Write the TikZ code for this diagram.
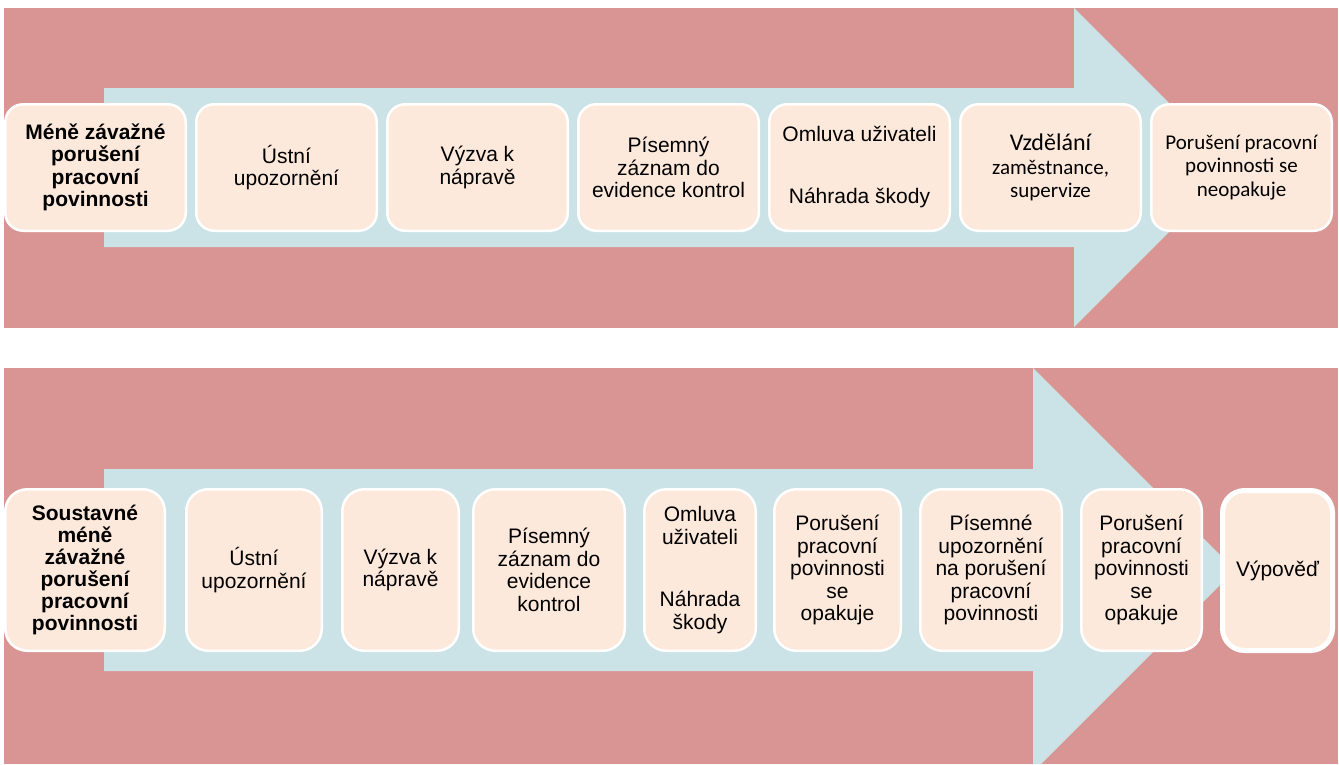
\documentclass[tikz,border=0pt]{standalone}
\usepackage{fontspec}
\setmainfont{Liberation Sans}
\newfontfamily\calibri{Carlito}
\definecolor{panelpink}{HTML}{D99594}
\definecolor{arrowblue}{HTML}{CBE3E7}
\definecolor{boxfill}{HTML}{FDE9DB}
\tikzset{
	stepbox/.style={rectangle,rounded corners=18pt,draw=white,line width=2.5pt,fill=boxfill,align=center,inner sep=0pt,font=\fontsize{21}{22.5}\selectfont},
	toprow/.style={stepbox,minimum height=126.5pt},
	bottomrow/.style={stepbox,rounded corners=22pt,minimum height=161.5pt}
}
\begin{document}
\begin{tikzpicture}[x=1pt,y=-1pt]
	\useasboundingbox[fill=white] (0,0) rectangle (1339,764);
	\fill[panelpink] (4,8) rectangle (1338,328);
	\fill[arrowblue] (104,88)--(1074,88)--(1074,8)--(1233.5,167.5)--(1074,327)--(1074,247)--(104,247)--cycle;
	\node[toprow,minimum width=180.5pt,font=\bfseries\fontsize{21}{22.5}\selectfont] (t1) at (95.5,167.5){Méně závažné\\porušení\\pracovní\\povinnosti};
	\node[toprow,minimum width=180.5pt] (t2) at (286.5,167.5){Ústní\\upozornění};
	\node[toprow,minimum width=180.5pt] (t3) at (477.5,167.5){Výzva k\\nápravě};
	\node[toprow,minimum width=180.5pt] (t4) at (668.5,167.5){Písemný\\záznam do\\evidence kontrol};
	\node[toprow,minimum width=180.5pt] (t5) at (859.5,167.5){Omluva uživateli\\[39.5pt]Náhrada škody};
	\node[toprow,minimum width=180.5pt,font=\calibri\fontsize{21}{23.5}\selectfont] (t6) at (1050.5,167.5){{\fontsize{24}{23.5}\selectfont Vzdělání}\\zaměstnance,\\supervize};
	\node[toprow,minimum width=180.5pt,font=\calibri\fontsize{21}{23.5}\selectfont] (t7) at (1241.5,167.5){Porušení pracovní\\povinnosti se\\neopakuje};
	\fill[panelpink] (4,368) rectangle (1338,764);
	\fill[arrowblue] (104,469)--(1033,469)--(1033,368)--(1235,570)--(1041,764)--(1033,764)--(1033,671)--(104,671)--cycle;
	\node[bottomrow,minimum width=159.5pt,font=\bfseries\fontsize{21}{22}\selectfont] (b1) at (85,570){Soustavné\\méně\\závažné\\porušení\\pracovní\\povinnosti};
	\node[bottomrow,minimum width=135.5pt] (b2) at (254,570){Ústní\\upozornění};
	\node[bottomrow,minimum width=116.5pt] (b3) at (400.5,570){Výzva k\\nápravě};
	\node[bottomrow,minimum width=151.5pt] (b4) at (549,570){Písemný\\záznam do\\evidence\\kontrol};
	\node[bottomrow,minimum width=111.5pt] (b5) at (700,570){Omluva\\uživateli\\[40pt]Náhrada\\škody};
	\node[bottomrow,minimum width=126.5pt] (b6) at (837.5,570){Porušení\\pracovní\\povinnosti\\se\\opakuje};
	\node[bottomrow,minimum width=141.5pt] (b7) at (991,570){Písemné\\upozornění\\na porušení\\pracovní\\povinnosti};
	\node[bottomrow,minimum width=120.5pt] (b8) at (1141.5,570){Porušení\\pracovní\\povinnosti\\se\\opakuje};
	\node[bottomrow,line width=5pt,minimum width=110pt,minimum height=160pt] (b9) at (1277.5,570.5){Výpověď};
\end{tikzpicture}
\end{document}
